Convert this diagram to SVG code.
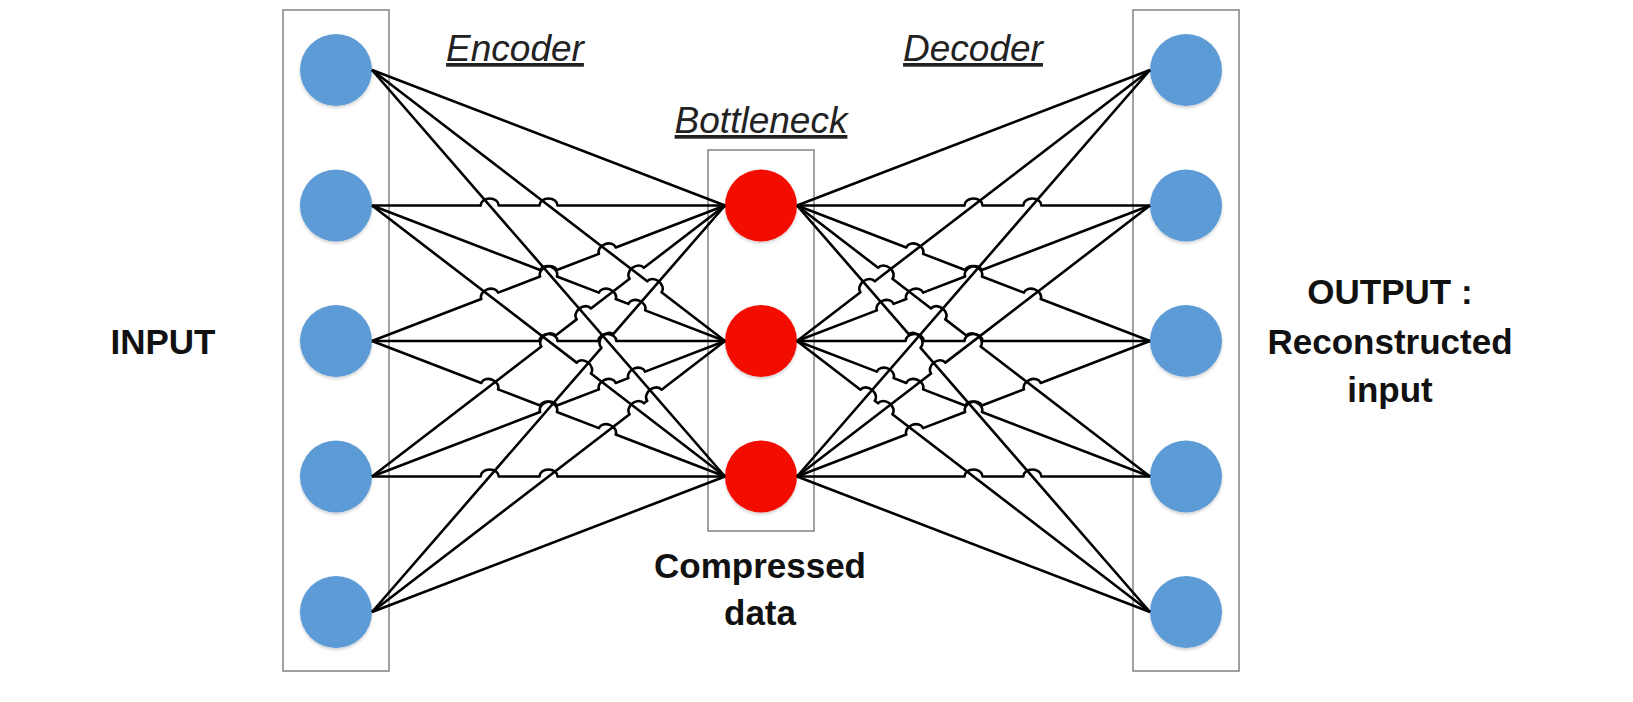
<svg xmlns="http://www.w3.org/2000/svg" width="1633" height="702" viewBox="0 0 1633 702">
<defs>
<filter id="sh" x="-20%" y="-20%" width="140%" height="150%">
<feDropShadow dx="0" dy="2" stdDeviation="1.5" flood-color="#000" flood-opacity="0.18"/>
</filter>
</defs>
<style>
.box{fill:none;stroke:#8a8a8a;stroke-width:1.6}
.in{fill:#5b9bd5;filter:url(#sh)}
.mid{fill:#f20f00;filter:url(#sh)}
.c line,.c path{stroke:#000;stroke-width:2.6;fill:none;stroke-linejoin:round}
.lbl{font-family:"Liberation Sans",Arial,sans-serif;font-weight:bold;font-size:35px;fill:#111;text-anchor:middle}
.it{font-family:"Liberation Sans",Arial,sans-serif;font-style:italic;font-size:37px;fill:#222;text-anchor:middle;text-decoration:underline}
</style>
<rect width="1633" height="702" fill="#fff"/>
<g id="input-layer" transform="translate(-2 0)">
<rect class="box" x="285" y="10" width="106" height="661"/>
<circle class="in" cx="338" cy="70" r="36"/>
<circle class="in" cx="338" cy="205.5" r="36"/>
<circle class="in" cx="338" cy="341" r="36"/>
<circle class="in" cx="338" cy="476.5" r="36"/>
<circle class="in" cx="338" cy="612" r="36"/>
</g>
<g id="bottleneck-layer" transform="translate(-2 0)">
<rect class="box" x="710" y="150" width="106" height="381"/>
<circle class="mid" cx="763" cy="205.5" r="36"/>
<circle class="mid" cx="763" cy="341" r="36"/>
<circle class="mid" cx="763" cy="476.5" r="36"/>
</g>
<g id="output-layer" transform="translate(-2 0)">
<rect class="box" x="1135" y="10" width="106" height="661"/>
<circle class="in" cx="1188" cy="70" r="36"/>
<circle class="in" cx="1188" cy="205.5" r="36"/>
<circle class="in" cx="1188" cy="341" r="36"/>
<circle class="in" cx="1188" cy="476.5" r="36"/>
<circle class="in" cx="1188" cy="612" r="36"/>
</g>
<g id="connectors" class="c" transform="translate(-2 0)">
<!-- encoder -->
<line x1="374" y1="70" x2="727" y2="205.5"/>
<path d="M374 70 L649.261 281.319 A9 7 37.52 0 1 663.539 292.281 L727 341"/>
<line x1="374" y1="70" x2="727" y2="476.5"/>
<path d="M374 205.5 L482.667 205.5 A9 7 0 0 1 500.667 205.5 L541.5 205.5 A9 7 0 0 1 559.5 205.5 L727 205.5"/>
<path d="M374 205.5 L542.098 270.025 A9 7 21 0 1 558.902 276.475 L600.931 292.608 A9 7 21 0 1 617.735 299.058 L630.348 303.9 A9 7 21 0 1 647.152 310.35 L727 341"/>
<path d="M374 205.5 L578.661 362.619 A9 7 37.52 0 1 592.939 373.581 L727 476.5"/>
<path d="M374 341 L483.265 299.058 A9 7 -21 0 1 500.069 292.608 L542.098 276.475 A9 7 -21 0 1 558.902 270.025 L600.931 253.892 A9 7 -21 0 1 617.735 247.442 L727 205.5"/>
<path d="M374 341 L541.5 341 A9 7 0 0 1 559.5 341 L600.333 341 A9 7 0 0 1 618.333 341 L727 341"/>
<path d="M374 341 L483.265 382.942 A9 7 21 0 1 500.069 389.392 L542.098 405.525 A9 7 21 0 1 558.902 411.975 L600.931 428.108 A9 7 21 0 1 617.735 434.558 L727 476.5"/>
<path d="M374 476.5 L543.361 346.481 A9 7 -37.52 0 1 557.639 335.519 L578.661 319.381 A9 7 -37.52 0 1 592.939 308.419 L631.611 278.731 A9 7 -37.52 0 1 645.889 267.769 L727 205.5"/>
<path d="M374 476.5 L542.098 411.975 A9 7 -21 0 1 558.902 405.525 L600.931 389.392 A9 7 -21 0 1 617.735 382.942 L630.348 378.1 A9 7 -21 0 1 647.152 371.65 L727 341"/>
<path d="M374 476.5 L482.667 476.5 A9 7 0 0 1 500.667 476.5 L541.5 476.5 A9 7 0 0 1 559.5 476.5 L727 476.5"/>
<path d="M374 612 L603.432 347.795 A9 7 -49.03 0 1 615.234 334.205 L727 205.5"/>
<path d="M374 612 L631.611 414.231 A9 7 -37.52 0 1 645.889 403.269 L649.261 400.681 A9 7 -37.52 0 1 663.539 389.719 L727 341"/>
<line x1="374" y1="612" x2="727" y2="476.5"/>
<!-- decoder -->
<line x1="1152" y1="70" x2="799" y2="205.5"/>
<path d="M1152 70 L876.739 281.319 A9 7 -37.52 0 0 862.461 292.281 L799 341"/>
<line x1="1152" y1="70" x2="799" y2="476.5"/>
<path d="M1152 205.5 L1043.333 205.5 A9 7 0 0 0 1025.333 205.5 L984.5 205.5 A9 7 0 0 0 966.5 205.5 L799 205.5"/>
<path d="M1152 205.5 L983.902 270.025 A9 7 -21 0 0 967.098 276.475 L925.069 292.608 A9 7 -21 0 0 908.265 299.058 L895.652 303.9 A9 7 -21 0 0 878.848 310.35 L799 341"/>
<path d="M1152 205.5 L947.339 362.619 A9 7 -37.52 0 0 933.061 373.581 L799 476.5"/>
<path d="M1152 341 L1042.735 299.058 A9 7 21 0 0 1025.931 292.608 L983.902 276.475 A9 7 21 0 0 967.098 270.025 L925.069 253.892 A9 7 21 0 0 908.265 247.442 L799 205.5"/>
<path d="M1152 341 L984.5 341 A9 7 0 0 0 966.5 341 L925.667 341 A9 7 0 0 0 907.667 341 L799 341"/>
<path d="M1152 341 L1042.735 382.942 A9 7 -21 0 0 1025.931 389.392 L983.902 405.525 A9 7 -21 0 0 967.098 411.975 L925.069 428.108 A9 7 -21 0 0 908.265 434.558 L799 476.5"/>
<path d="M1152 476.5 L982.639 346.481 A9 7 37.52 0 0 968.361 335.519 L947.339 319.381 A9 7 37.52 0 0 933.061 308.419 L894.389 278.731 A9 7 37.52 0 0 880.111 267.769 L799 205.5"/>
<path d="M1152 476.5 L983.902 411.975 A9 7 21 0 0 967.098 405.525 L925.069 389.392 A9 7 21 0 0 908.265 382.942 L895.652 378.1 A9 7 21 0 0 878.848 371.65 L799 341"/>
<path d="M1152 476.5 L1043.333 476.5 A9 7 0 0 0 1025.333 476.5 L984.5 476.5 A9 7 0 0 0 966.5 476.5 L799 476.5"/>
<path d="M1152 612 L922.568 347.795 A9 7 49.03 0 0 910.766 334.205 L799 205.5"/>
<path d="M1152 612 L894.389 414.231 A9 7 37.52 0 0 880.111 403.269 L876.739 400.681 A9 7 37.52 0 0 862.461 389.719 L799 341"/>
<line x1="1152" y1="612" x2="799" y2="476.5"/>
</g>
<g id="labels">
<text class="it" x="515" y="61">Encoder</text>
<text class="it" x="973" y="61">Decoder</text>
<text class="it" x="761" y="133">Bottleneck</text>
<text class="lbl" x="163" y="354">INPUT</text>
<text class="lbl" x="760" y="578">Compressed</text>
<text class="lbl" x="760" y="625">data</text>
<text class="lbl" x="1390" y="304">OUTPUT :</text>
<text class="lbl" x="1390" y="354">Reconstructed</text>
<text class="lbl" x="1390" y="402">input</text>
</g>
</svg>
